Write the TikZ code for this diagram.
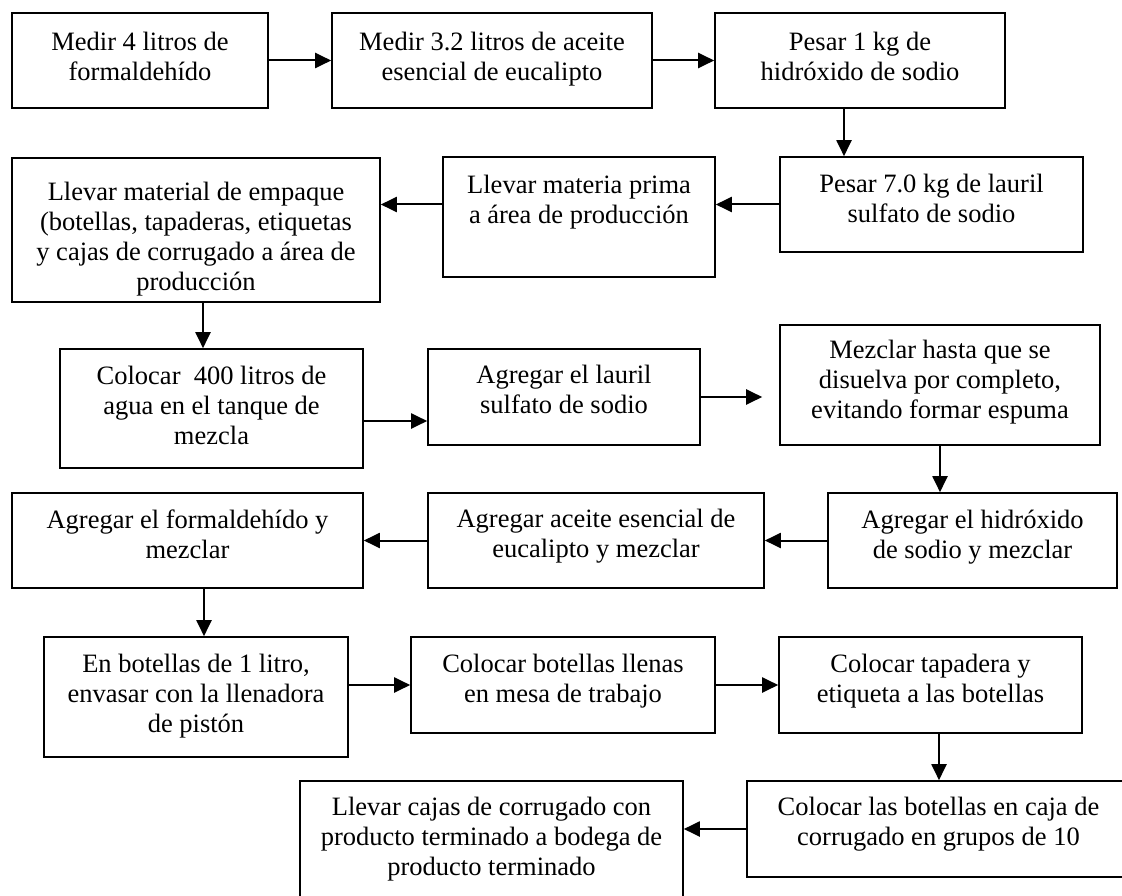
\documentclass[tikz,border=0pt]{standalone}
\usepackage{fontspec}
\setmainfont{Liberation Serif}
\usetikzlibrary{arrows.meta}
\tikzset{
  box/.style={draw, line width=2pt, inner sep=0pt, outer sep=0pt, anchor=north west},
  txt/.style={inner sep=0pt, align=center, font=\fontsize{26.5}{30}\selectfont},
  arr/.style={line width=2pt, -{Triangle[length=16pt,width=15pt]}, shorten >=0.8pt}
}
\newcommand\flowstep[7]{%
  \node[box, minimum width={(#4-#2)*1pt}, minimum height={(#5-#3)*1pt}] (#1) at (#2,#3) {};
  \node[txt, anchor=north] (#1t) at ([yshift=-#6pt]#1.north) {\strut #7};
}
\begin{document}
\begin{tikzpicture}[x=1pt, y=-1pt]
\useasboundingbox (0,0) rectangle (1122,896);
\clip (0,0) rectangle (1122,896);

\flowstep{A}{12}{13}{268}{108}{16}{Medir 4 litros de\\formaldehído}
\flowstep{B}{332}{13}{652}{108}{16}{Medir 3.2 litros de aceite\\esencial de eucalipto}
\flowstep{C}{715}{13}{1005}{108}{16}{Pesar 1 kg de\\hidróxido de sodio}
\flowstep{D}{780}{157}{1083}{252}{14}{Pesar 7.0 kg de lauril\\sulfato de sodio}
\flowstep{E}{443}{157}{715}{277}{15}{Llevar materia prima\\a área de producción}
\flowstep{F}{12}{158}{380}{302}{21}{Llevar material de empaque\\(botellas, tapaderas, etiquetas\\y cajas de corrugado a área de\\producción}
\flowstep{G}{60}{349}{363}{468}{14}{Colocar\ \ 400 litros de\\agua en el tanque de\\mezcla}
\flowstep{H}{428}{349}{700}{445}{13}{Agregar el lauril\\sulfato de sodio}
\flowstep{I}{780}{325}{1100}{445}{12}{Mezclar hasta que se\\disuelva por completo,\\evitando formar espuma}
\flowstep{J}{828}{493}{1117}{588}{14}{Agregar el hidróxido\\de sodio y mezclar}
\flowstep{K}{428}{493}{764}{588}{13}{Agregar aceite esencial de\\eucalipto y mezclar}
\flowstep{L}{12}{493}{363}{588}{14}{Agregar el formaldehído y\\mezclar}
\flowstep{M}{44}{637}{348}{757}{14}{En botellas de 1 litro,\\envasar con la llenadora\\de pistón}
\flowstep{N}{411}{637}{715}{733}{14}{Colocar botellas llenas\\en mesa de trabajo}
\flowstep{O}{779}{637}{1082}{733}{14}{Colocar tapadera y\\etiqueta a las botellas}
\flowstep{P}{747}{781}{1130}{877}{13}{Colocar las botellas en caja de\\corrugado en grupos de 10}
\flowstep{Q}{300}{781}{683}{910}{13}{Llevar cajas de corrugado con\\producto terminado a bodega de\\producto terminado}

\coordinate (xCD) at (844,0);
\coordinate (xFG) at (203,0);
\coordinate (yGH) at (0,421);
\coordinate (Hend) at (763,397);
\coordinate (xLM) at (204,0);
\coordinate (xOP) at (939,0);

\draw[arr] (A.east) -- (B.west);
\draw[arr] (B.east) -- (C.west);
\draw[arr] (C.south -| xCD) -- (D.north -| xCD);
\draw[arr] (D.west) -- (D.west -| E.east);
\draw[arr] (D.west -| E.west) -- (D.west -| F.east);
\draw[arr] (F.south -| xFG) -- (G.north -| xFG);
\draw[arr] (G.east |- yGH) -- (H.west |- yGH);
\draw[arr] (H.east) -- (Hend);
\draw[arr] (I.south) -- (I.south |- J.north);
\draw[arr] (J.west) -- (K.east);
\draw[arr] (K.west) -- (L.east);
\draw[arr] (L.south -| xLM) -- (M.north -| xLM);
\draw[arr] (M.east |- N.west) -- (N.west);
\draw[arr] (N.east) -- (O.west);
\draw[arr] (O.south -| xOP) -- (P.north -| xOP);
\draw[arr] (P.west) -- (P.west -| Q.east);
\end{tikzpicture}
\end{document}
